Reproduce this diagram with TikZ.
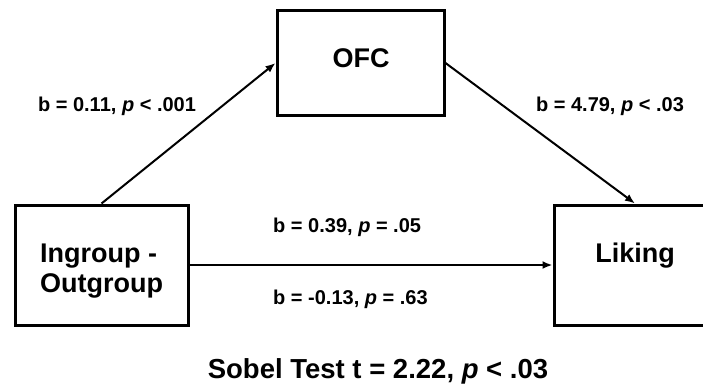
\documentclass[tikz,border=0pt]{standalone}
\usepackage{fontspec}
\setmainfont{Liberation Sans}
\usetikzlibrary{arrows.meta}
\begin{document}
\begin{tikzpicture}[x=1pt,y=-1pt,
  varbox/.style={draw=black,line width=3pt,inner sep=0pt},
  arr/.style={line width=2pt,-{Latex[length=10pt,width=8pt]}},
  lbl/.style={inner sep=0pt,font=\fontsize{20}{24}\selectfont\bfseries},
  boxtxt/.style={inner sep=0pt,font=\fontsize{27}{32}\selectfont\bfseries},
  sob/.style={inner sep=0pt,font=\fontsize{27.5}{33}\selectfont\bfseries}]
\clip (0,0) rectangle (703,385);
\fill[white] (0,0) rectangle (703,385);
% boxes
\node[varbox, minimum width=167pt, minimum height=104pt] (ofc) at (360.5,63) {};
\node[varbox, minimum width=173pt, minimum height=120pt] (ingroup) at (101.5,265) {};
\node[varbox, minimum width=162pt, minimum height=120pt] (liking) at (635,265) {};
% box texts
\node[boxtxt, anchor=base] (ofctxt) at (361,68) {OFC};
\node[boxtxt, anchor=base west] (ingtxt1) at (40,262) {Ingroup -};
\node[boxtxt, anchor=base west] (ingtxt2) at (40,292) {Outgroup};
\node[boxtxt, anchor=base] (liktxt) at (635,262) {Liking};
% connectors
\draw[arr] (ingroup.north) -- (ofc.west);
\draw[arr] (ofc.east) -- (liking.north);
\draw[arr] (ingroup.east) -- (liking.west);
% labels
\node[lbl, anchor=base] (la) at (117,111) {b = 0.11, \textit{p} < .001};
\node[lbl, anchor=base] (lb) at (610,111) {b = 4.79, \textit{p} < .03};
\node[lbl, anchor=base west] (lc) at (273,232) {b = 0.39, \textit{p} = .05};
\node[lbl, anchor=base west] (ld) at (273,304) {b = -0.13, \textit{p} = .63};
\node[sob, anchor=base] (sobel) at (378,378) {Sobel Test t = 2.22, \textit{p} < .03};
\end{tikzpicture}
\end{document}
